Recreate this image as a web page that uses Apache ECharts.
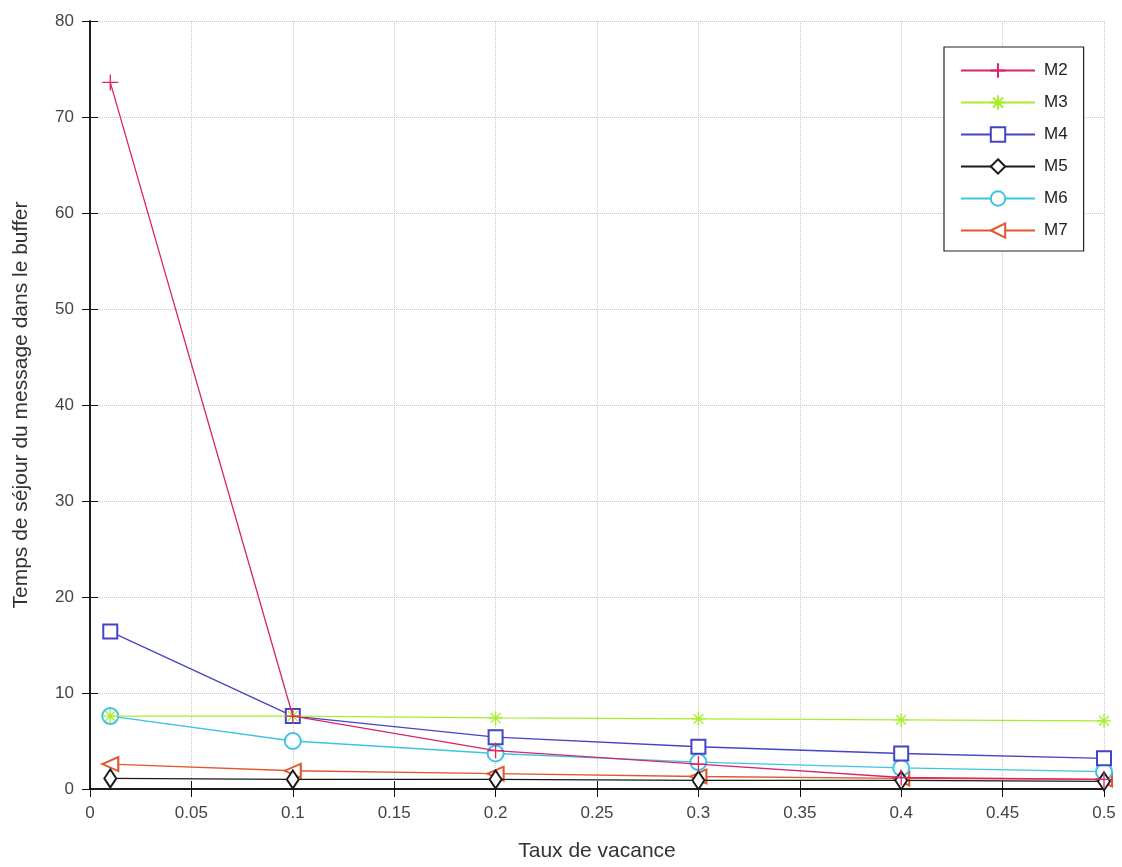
<!DOCTYPE html>
<html><head><meta charset="utf-8">
<script src="https://cdn.jsdelivr.net/npm/echarts@6/dist/echarts.min.js"></script>
<style>html,body{margin:0;padding:0;background:#fff}#c{width:1122px;height:867px}</style>
</head><body><div id="c"></div>
<script>
const xs = [0.01, 0.1, 0.2, 0.3, 0.4, 0.5];
const M2 = [73.6, 7.6, 4.0, 2.6, 1.2, 1.0];
const M3 = [7.6, 7.6, 7.4, 7.3, 7.2, 7.1];
const M4 = [16.4, 7.6, 5.4, 4.4, 3.7, 3.2];
const M5 = [1.1, 1.0, 1.0, 0.9, 0.9, 0.8];
const M6 = [7.6, 5.0, 3.7, 2.8, 2.2, 1.8];
const M7 = [2.6, 1.9, 1.6, 1.3, 1.1, 1.0];
const names = ['M2','M3','M4','M5','M6','M7'];
const values = [M2, M3, M4, M5, M6, M7];
const colors = ['#d8246c', '#a8ee2c', '#4444c4', '#1a1a1a', '#3cc4e4', '#e2582e'];
const symbols = [
  'path://M0,-10L0,10M-10,0L10,0',
  'path://M0,-10L0,10M-10,0L10,0M-7,-7L7,7M-7,7L7,-7',
  'emptyRect', 'emptyDiamond', 'emptyCircle', 'emptyTriangle'
];
const sizes = [[16,16],[14,14],[14,14],[12,18],[16,16],[14,16]];
const rot = [0,0,0,0,0,90];

const series = names.map((n, i) => ({
  name: n, type: 'line',
  data: xs.map((x, j) => [x, values[i][j]]),
  symbol: symbols[i], symbolSize: sizes[i], symbolRotate: rot[i],
  lineStyle: {color: colors[i], width: 1.3},
  itemStyle: {color: colors[i], borderColor: colors[i], borderWidth: 1.3},
  emphasis: {disabled: true},
  z: 10 - i
}));

const chart = echarts.init(document.getElementById('c'), null, {renderer: 'canvas'});
const ff = 'Liberation Sans, Arial, sans-serif';
const tickLbl = {color: '#444', fontSize: 17, fontFamily: ff};
chart.setOption({
  animation: false,
  backgroundColor: '#fff',
  grid: {left: 90, right: 18, top: 21, bottom: 78, containLabel: false},
  legend: {
    orient: 'vertical', left: 944, top: 47,
    data: names,
    itemWidth: 74, itemHeight: 18, itemGap: 15,
    padding: [15, 16, 12, 16],
    borderColor: '#222', borderWidth: 1.2, backgroundColor: '#fff',
    textStyle: {color: '#222', fontSize: 17, fontFamily: ff, padding: [0, 0, 0, 4]}
  },
  xAxis: [{
    type: 'value', min: 0, max: 0.5, interval: 0.05,
    name: 'Taux de vacance', nameLocation: 'middle', nameGap: 52,
    nameTextStyle: {color: '#333', fontSize: 21, fontFamily: ff},
    axisLine: {show: true, lineStyle: {color: '#111', width: 1.5}},
    axisTick: {show: true, inside: true, length: 8, lineStyle: {color: '#111'}},
    axisLabel: Object.assign({margin: 16}, tickLbl),
    splitLine: {show: true, lineStyle: {color: '#c8c8c8', type: 'dotted', width: 1}}
  }, {
    type: 'value', position: 'top', min: 0, max: 0.5, interval: 0.05,
    axisLine: {show: true, lineStyle: {color: '#111', width: 1.5}},
    axisTick: {show: true, inside: true, length: 8, lineStyle: {color: '#111'}},
    axisLabel: {show: false}, splitLine: {show: false}
  }],
  yAxis: [{
    type: 'value', min: 0, max: 80, interval: 10,
    name: 'Temps de séjour du message dans le buffer', nameLocation: 'middle', nameGap: 58,
    nameTextStyle: {color: '#333', fontSize: 21, fontFamily: ff},
    axisLine: {show: true, lineStyle: {color: '#111', width: 1.5}},
    axisTick: {show: true, inside: true, length: 8, lineStyle: {color: '#111'}},
    axisLabel: Object.assign({margin: 16}, tickLbl),
    splitLine: {show: true, lineStyle: {color: '#c8c8c8', type: 'dotted', width: 1}}
  }, {
    type: 'value', position: 'right', min: 0, max: 80, interval: 10,
    axisLine: {show: true, lineStyle: {color: '#111', width: 1.5}},
    axisTick: {show: true, inside: true, length: 8, lineStyle: {color: '#111'}},
    axisLabel: {show: false}, splitLine: {show: false}
  }],
  series: series
});
</script></body></html>
